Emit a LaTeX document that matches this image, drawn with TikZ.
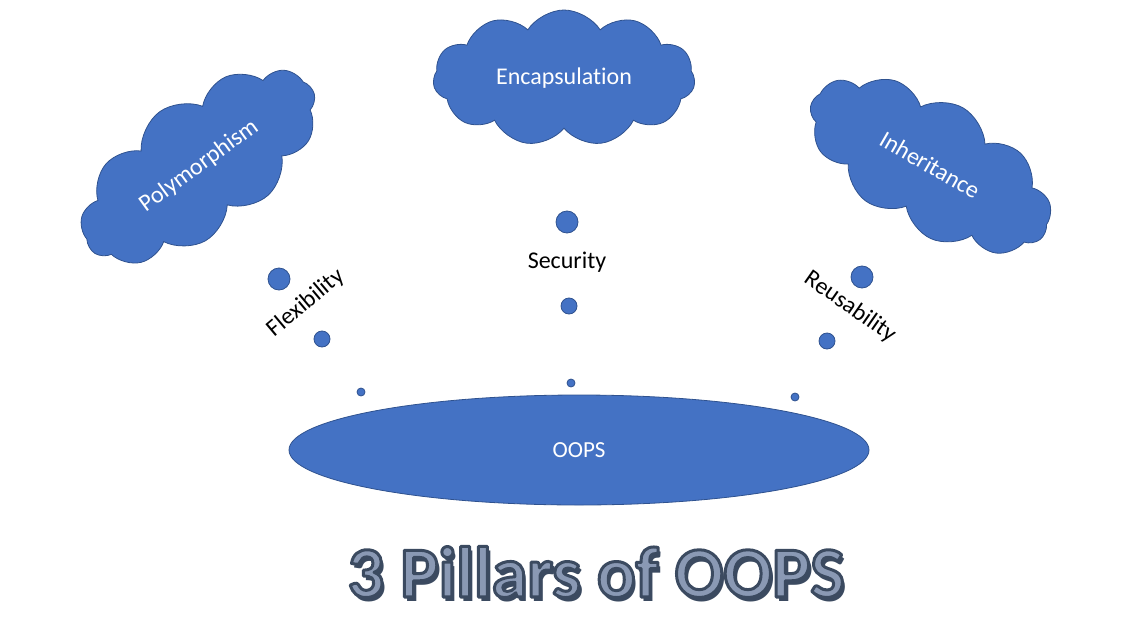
\documentclass[tikz,border=0pt]{standalone}
\usepackage{fontspec}
\setmainfont[Ligatures=NoCommon]{Carlito}
\usetikzlibrary{shapes.symbols,shapes.geometric}

\definecolor{blob}{HTML}{4472C4}
\definecolor{blobline}{HTML}{2F528F}
\definecolor{titleink}{HTML}{3B4A60}
\definecolor{titlefill}{HTML}{8A99B4}

\tikzset{
  pillar/.style={cloud,cloud puffs=11,cloud puff arc=115,aspect=2,fill=blob,draw=blobline,
    line width=0.8pt,text=white,font=\fontsize{24}{28}\selectfont,inner sep=0pt},
  bubble/.style={circle,fill=blob,draw=blobline,line width=0.8pt,inner sep=0pt},
  gain/.style={font=\fontsize{24}{28}\selectfont,text=black},
  titletxt/.style={font=\fontsize{72}{80}\bfseries\selectfont}
}
\newcommand{\outlined}[1]{\special{pdf:literal direct 0.231 0.29 0.376 RG 3 w 1 j 2 Tr}#1\special{pdf:literal direct 0 Tr 1 w}}

\begin{document}
\begin{tikzpicture}[x=1pt,y=-1pt]
\useasboundingbox (0,0) rectangle (1145,629);
% the three pillars
\node[pillar,minimum width=262pt,minimum height=136pt] (encap) at (564,78) {Encapsulation};
\node[pillar,minimum width=274pt,minimum height=134pt,rotate=36] (poly) at (199,166) {Polymorphism};
\node[pillar,minimum width=268pt,minimum height=132pt,rotate=-30] (inher) at (930,165) {Inheritance};
% the base
\node[ellipse,fill=blob,draw=blobline,line width=0.8pt,minimum width=580pt,minimum height=110pt,
  text=white,font=\fontsize{23}{26}\selectfont] (oops) at (579,450) {OOPS};
% bubbles
\node[bubble,minimum size=22pt] (pa) at (279,279) {};
\node[bubble,minimum size=16pt] (pb) at (322,339) {};
\node[bubble,minimum size=8pt] (pc) at (361,392) {};
\node[bubble,minimum size=22pt] (ea) at (567,222) {};
\node[bubble,minimum size=16pt] (eb) at (569,306) {};
\node[bubble,minimum size=8pt] (ec) at (571,383) {};
\node[bubble,minimum size=22pt] (ia) at (862,277) {};
\node[bubble,minimum size=16pt] (ib) at (827,341) {};
\node[bubble,minimum size=8pt] (ic) at (795,397) {};
% what each one gives
\node[gain,rotate=40] (flex) at (306,303) {Flexibility};
\node[gain] (secu) at (567,262) {Security};
\node[gain,rotate=-35] (reuse) at (850,307) {Reusability};
% title, shadow first
\node[titletxt,text=titleink] (shadow) at (599,576) {3 Pillars of OOPS};
\node[titletxt,text=titlefill] (title) at (596,572) {\outlined{3 Pillars of OOPS}};
\end{tikzpicture}
\end{document}
